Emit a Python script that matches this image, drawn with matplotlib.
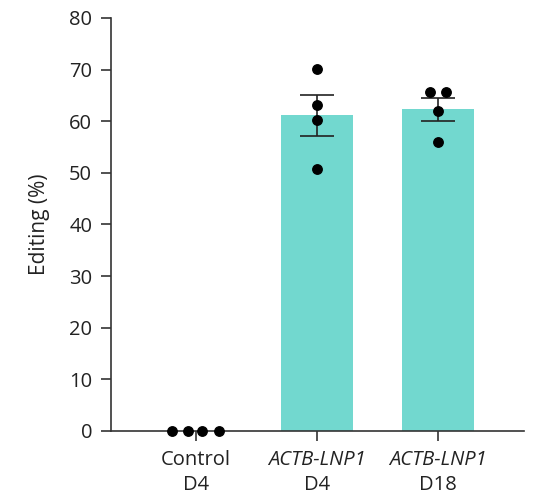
import numpy as np
import matplotlib.pyplot as plt

plt.rcParams['font.family'] = ['Open Sans', 'DejaVu Sans']

groups = ["Control", "ACTB-LNP1", "ACTB-LNP1"]
days = ["D4", "D4", "D18"]
italic = [False, True, True]
points = [
    [0.0, 0.0, 0.0, 0.0],
    [70.2, 63.2, 60.3, 50.8],
    [65.6, 65.6, 62.0, 56.0],
]
jitter = [
    [-0.193, -0.061, 0.055, 0.195],
    [0.0, 0.0, 0.0, 0.0],
    [-0.066, 0.066, 0.0, 0.0],
]

means = [np.mean(p) for p in points]
sems = [np.std(p, ddof=1) / np.sqrt(len(p)) for p in points]

fig = plt.figure(figsize=(5.34, 4.95), dpi=100)
ax = fig.add_axes([111 / 534, 64 / 495, (524 - 111) / 534, (431 - 18) / 495])

x = np.arange(len(groups))
ax.bar(x[1:], means[1:], width=0.59, color="#72d8cf", zorder=1)
ax.errorbar(x[1:], means[1:], yerr=sems[1:], fmt="none", ecolor="#222222",
            elinewidth=1.2, capsize=12.5, capthick=1.2, zorder=2)
for i in range(len(groups)):
    ax.plot(x[i] + np.array(jitter[i]), points[i], "o", color="black",
            markersize=6.8, zorder=5, clip_on=False)

ax.set_xlim(-0.70, 2.71)
ax.set_ylim(0, 80)
ax.set_yticks(range(0, 81, 10))
ax.set_xticks(x)
ax.set_xticklabels([""] * len(groups))
ax.tick_params(axis="both", colors="#333333", labelcolor="#222222",
               labelsize=14.5, length=7.5, width=1.2, pad=6)
for s in ["top", "right"]:
    ax.spines[s].set_visible(False)
for s in ["left", "bottom"]:
    ax.spines[s].set_color("#333333")
    ax.spines[s].set_linewidth(1.2)

trans = ax.get_xaxis_transform()
for i in range(len(groups)):
    ax.annotate(groups[i], (x[i], 0), xycoords=trans, xytext=(0, -21),
                textcoords="offset points", ha="center", va="center",
                fontsize=14.5, color="#222222",
                style="italic" if italic[i] else "normal")
    ax.annotate(days[i], (x[i], 0), xycoords=trans, xytext=(0, -39),
                textcoords="offset points", ha="center", va="center",
                fontsize=14.5, color="#222222")

ax.set_ylabel("Editing (%)", fontsize=15, color="#222222", labelpad=14)

fig.savefig("out.png", dpi=100)
